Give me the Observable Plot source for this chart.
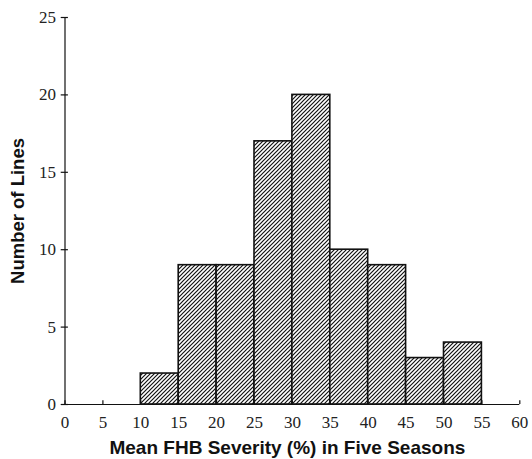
<!DOCTYPE html>
<html>
<head>
<meta charset="utf-8">
<script src="https://cdn.jsdelivr.net/npm/d3@7"></script>
<script src="https://cdn.jsdelivr.net/npm/@observablehq/plot@0.6"></script>
<style>
  body { margin: 0; background: #fff; }
  #chart svg { display: block; }
</style>
</head>
<body>
<div id="chart"></div>
<script>
const binStart = [10, 15, 20, 25, 30, 35, 40, 45, 50];
const binEnd   = [15, 20, 25, 30, 35, 40, 45, 50, 55];
const counts   = [2, 9, 9, 17, 20, 10, 9, 3, 4];
const xTicks = [0, 5, 10, 15, 20, 25, 30, 35, 40, 45, 50, 55, 60];
const yTicks = [0, 5, 10, 15, 20, 25];
const xLabel = "Mean FHB Severity (%) in Five Seasons";
const yLabel = "Number of Lines";

const bins = binStart.map((s, i) => ({x1: s, x2: binEnd[i], y: counts[i]}));

const chart = Plot.plot({
  width: 532,
  height: 459,
  marginLeft: 64.5,
  marginRight: 12.7,
  marginTop: 17,
  marginBottom: 55,
  style: {fontFamily: "'Liberation Serif', serif", fontSize: "17px", color: "#222", background: "#fff"},
  x: {domain: [0, 60], axis: null},
  y: {domain: [0, 25], axis: null},
  marks: [
    Plot.rectY(bins, {x1: "x1", x2: "x2", y: "y", fill: "url(#hatch)", stroke: "#111", strokeWidth: 1.6}),
    Plot.ruleY([0], {x1: 0, x2: 60, stroke: "#111", strokeWidth: 1.2}),
    Plot.ruleX([0], {y1: 0, y2: 25, stroke: "#111", strokeWidth: 1.2}),
    Plot.ruleX(xTicks, {x: d => d, y1: 0, y2: 0.25, stroke: "#111", strokeWidth: 1.2}),
    Plot.ruleY(yTicks, {y: d => d, x1: -0.5, x2: 0.45, stroke: "#111", strokeWidth: 1.2}),
    Plot.text(xTicks, {x: d => d, y: 0, dy: 18.5, text: d => String(d), fontSize: 17, fill: "#222"}),
    Plot.text(yTicks, {x: 0, y: d => d, dx: -9, textAnchor: "end", text: d => String(d), fontSize: 17, fill: "#222"}),
    Plot.text([xLabel], {x: 30, y: 0, dx: -5, dy: 43, text: d => d, fontFamily: "'Liberation Sans', Arial, sans-serif", fontWeight: "bold", fontSize: 19, fill: "#111"}),
    Plot.text([yLabel], {frameAnchor: "left", dx: -47, rotate: -90, textAnchor: "middle", text: d => d, fontFamily: "'Liberation Sans', Arial, sans-serif", fontWeight: "bold", fontSize: 18.5, fill: "#111"})
  ]
});

const svgNS = "http://www.w3.org/2000/svg";
const defs = document.createElementNS(svgNS, "defs");
const pat = document.createElementNS(svgNS, "pattern");
pat.setAttribute("id", "hatch");
pat.setAttribute("patternUnits", "userSpaceOnUse");
pat.setAttribute("width", "4");
pat.setAttribute("height", "4");
const bg = document.createElementNS(svgNS, "rect");
bg.setAttribute("width", "4"); bg.setAttribute("height", "4"); bg.setAttribute("fill", "#fff");
pat.appendChild(bg);
const p = document.createElementNS(svgNS, "path");
p.setAttribute("d", "M-1,1 l2,-2 M0,4 l4,-4 M3,5 l2,-2");
p.setAttribute("stroke", "#111");
p.setAttribute("stroke-width", "1.2");
pat.appendChild(p);
defs.appendChild(pat);
chart.insertBefore(defs, chart.firstChild);

document.getElementById("chart").appendChild(chart);
</script>
</body>
</html>
